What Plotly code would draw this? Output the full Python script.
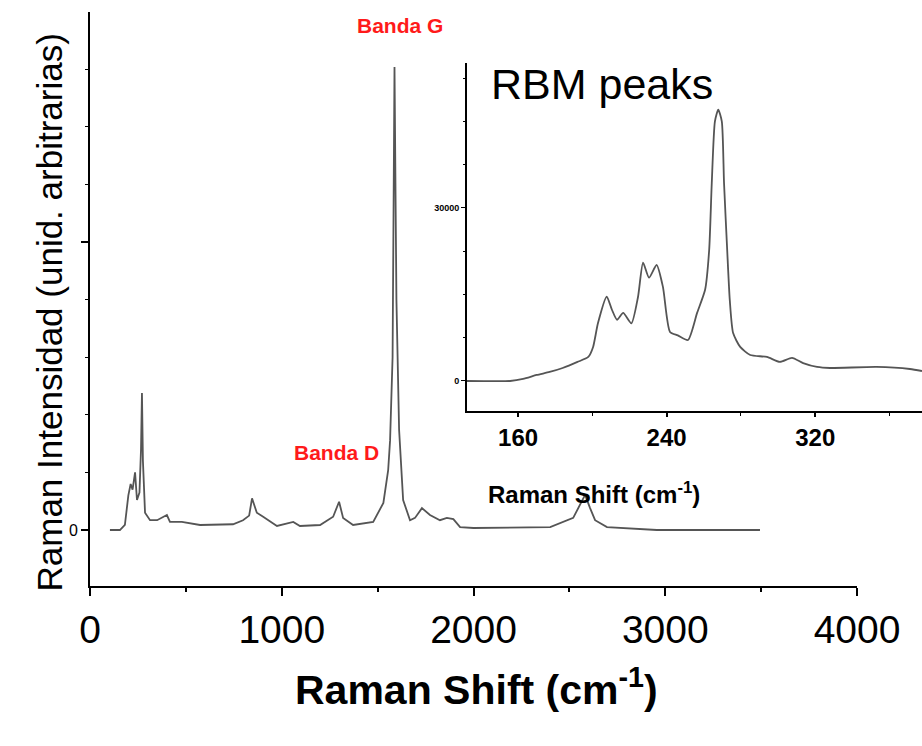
import plotly.graph_objects as go

# Full Raman spectrum (Raman shift in cm^-1, intensity in arbitrary units)
main_shift = [104, 156, 182, 200, 212, 222, 235, 245, 258, 266, 271, 276, 287, 313,
              350, 401, 417, 479, 574, 680, 746, 798, 830, 845, 870, 903, 975, 1060,
              1095, 1200, 1268, 1299, 1320, 1372, 1477, 1530, 1555, 1565, 1578, 1588,
              1598, 1612, 1633, 1669, 1695, 1731, 1773, 1825, 1861, 1895, 1930, 2000,
              2400, 2520, 2555, 2582, 2608, 2634, 2696, 2764, 2956, 3494]
main_intensity = [0, 0, 900, 6000, 8000, 7000, 10000, 5200, 6500, 14000, 23800, 12000, 3000, 1700,
                  1700, 2600, 1400, 1400, 870, 1000, 1000, 1700, 2500, 5500, 3000, 2300, 700, 1400,
                  700, 870, 2300, 4900, 2100, 870, 1400, 4700, 10400, 15600, 30000, 80400,
                  40000, 17400, 5200, 1700, 2100, 3800, 2600, 1700, 2100, 1900, 500, 350,
                  500, 2100, 4300, 6100, 3800, 1700, 500, 350, 0, 0]

# Radial breathing mode region
rbm_shift = [132.5, 155.7, 162.7, 170, 177, 184, 192, 197.8, 200.4, 203, 207.7, 210.6,
             213.3, 216.6, 221, 224.6, 227.3, 230.5, 234.6, 238, 241.8, 246, 251.5,
             256.4, 260.7, 262.9, 264.3, 266, 267.8, 269.7, 270.9, 272.6, 274, 275.8,
             279.6, 285, 294, 301, 307.5, 313.5, 321, 328, 353, 371, 377.5]
rbm_intensity = [0, 0, 350, 1040, 1560, 2250, 3300, 4160, 5900, 10000, 14600, 12300,
                 10600, 11800, 10000, 14600, 20500, 17900, 20100, 16300, 8500, 7900, 7100,
                 11800, 15800, 22700, 34300, 45000, 47000, 45000, 34300, 22700, 14000, 8300,
                 5900, 4500, 4160, 3300, 4000, 3100, 2430, 2250, 2430, 2080, 1730]

main_xticks = [0, 1000, 2000, 3000, 4000]
main_yticks = [0, 50000]
main_yticklabels = ["0", ""]
rbm_xticks = [160, 240, 320]
rbm_xticklabels = ["<b>160</b>", "<b>240</b>", "<b>320</b>"]
rbm_yticks = [0, 30000]
rbm_yticklabels = ["<b>0</b>", "<b>30000</b>"]

FONT = "Liberation Sans, Arial, sans-serif"
LINE = "#555555"
W, H = 922, 746

fig = go.Figure()
fig.add_trace(go.Scatter(x=main_shift, y=main_intensity, mode="lines",
                         line=dict(color=LINE, width=1.8), xaxis="x", yaxis="y",
                         showlegend=False, hoverinfo="skip"))
fig.add_trace(go.Scatter(x=rbm_shift, y=rbm_intensity, mode="lines",
                         line=dict(color=LINE, width=1.8, shape="spline", smoothing=0.6),
                         xaxis="x2", yaxis="y2", showlegend=False, hoverinfo="skip"))

axis_common = dict(showgrid=False, zeroline=False, showline=True, linecolor="black",
                   ticks="outside", tickcolor="black", automargin=False)

fig.update_layout(
    width=W, height=H,
    margin=dict(l=0, r=0, t=0, b=0, pad=0),
    paper_bgcolor="white", plot_bgcolor="rgba(0,0,0,0)",
    font=dict(family=FONT, color="black"),
    xaxis=dict(**axis_common, domain=[90 / W, 857 / W], range=[0, 4000],
               anchor="y", linewidth=2, tickwidth=2, ticklen=8,
               tickvals=main_xticks, tickfont=dict(size=39, family=FONT),
               minor=dict(dtick=500, ticklen=4, tickwidth=2, ticks="outside", tickcolor="black")),
    yaxis=dict(**axis_common, domain=[(H - 586) / H, (H - 12) / H],
               range=[-9722, 89930], anchor="x", linewidth=2, tickwidth=1.5, ticklen=7,
               tickvals=main_yticks, ticktext=main_yticklabels,
               tickfont=dict(size=16, family=FONT),
               minor=dict(dtick=10000, ticklen=3, tickwidth=1, ticks="outside", tickcolor="black")),
    xaxis2=dict(**axis_common, domain=[467 / W, 1.0], range=[132.5, 377.5],
                anchor="y2", linewidth=2, tickwidth=1.5, ticklen=4,
                tickvals=rbm_xticks, ticktext=rbm_xticklabels,
                tickfont=dict(size=24, family=FONT),
                minor=dict(dtick=40, ticklen=3, tickwidth=1, ticks="outside", tickcolor="black")),
    yaxis2=dict(**axis_common, domain=[(H - 411) / H, (H - 63) / H],
                range=[-5200, 55100], anchor="x2", linewidth=2, tickwidth=1, ticklen=4,
                tickvals=rbm_yticks, ticktext=rbm_yticklabels,
                tickfont=dict(size=9, family=FONT),
                minor=dict(dtick=7500, ticklen=2, tickwidth=1, ticks="outside", tickcolor="black")),
)

annotations = [
    dict(text="<b>Raman Shift (cm<sup>-1</sup>)</b>", x=476 / W, y=(H - 715) / H,
         xref="paper", yref="paper", showarrow=False, font=dict(size=41, family=FONT)),
    dict(text="Raman Intensidad (unid. arbitrarias)", x=28 / W, y=(H - 313) / H,
         xref="paper", yref="paper", showarrow=False, textangle=-90,
         font=dict(size=35, family=FONT)),
    dict(text="RBM peaks", x=602 / W, y=(H - 58) / H, xref="paper", yref="paper",
         showarrow=False, font=dict(size=43, family=FONT)),
    dict(text="<b>Raman Shift (cm<sup>-1</sup>)</b>", x=702 / W, y=(H - 493) / H,
         xref="paper", yref="paper", showarrow=False, font=dict(size=24, family=FONT)),
    dict(text="<b>Banda G</b>", x=1617, y=87670, xref="x", yref="y", showarrow=False,
         font=dict(size=21, family=FONT, color="#ff1a1a")),
    dict(text="<b>Banda D</b>", x=1283, y=13540, xref="x", yref="y", showarrow=False,
         font=dict(size=21, family=FONT, color="#ff1a1a")),
]
fig.update_layout(annotations=annotations)

fig.write_html("out.html")
